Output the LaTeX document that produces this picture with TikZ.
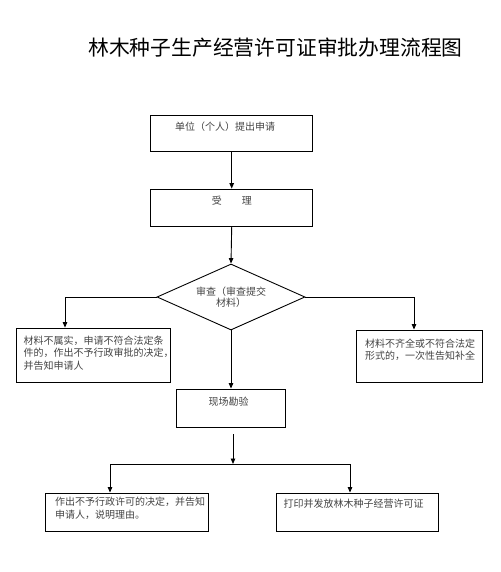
\documentclass[tikz,border=0pt]{standalone}
\usepackage{fontspec}
\setmainfont{Noto Sans CJK SC}
\usetikzlibrary{shapes.geometric,arrows.meta}
\definecolor{txtgray}{HTML}{444444}
\begin{document}
\begin{tikzpicture}[x=1pt,y=-1pt,
  box/.style={draw=black,line width=0.9pt,inner sep=0pt,fill=white},
  txt/.style={inner sep=0pt,anchor=north west,align=left,text=txtgray,font=\fontsize{10}{12.4}\selectfont},
  arr/.style={-{Triangle[length=5.5pt,width=4.5pt]},line width=0.9pt},
  plain/.style={line width=0.9pt}]
\useasboundingbox[fill=white] (0,0) rectangle (500,572);
% title
\node[inner sep=0pt,font=\fontsize{20.8}{25}\selectfont] (title) at (275.5,48) {林木种子生产经营许可证审批办理流程图};
% boxes
\node[box,minimum width=162pt,minimum height=36.7pt] (b1) at (231.7,133.4) {};
\node[txt] (t1) at (175,122) {单位（个人）提出申请};
\node[box,minimum width=162pt,minimum height=37.7pt] (b2) at (231.7,207.9) {};
\node[txt] (t2) at (211.7,196) {受\hspace{20pt}理};
\node[diamond,draw=black,line width=0.9pt,fill=white,inner sep=0pt,minimum width=148pt,minimum height=66pt] (dia) at (231,297) {};
\node[txt,anchor=north,align=center,font=\fontsize{10}{11}\selectfont] (td) at (231,286.7) {审查（审查提交\\材料）};
\node[box,minimum width=154pt,minimum height=54.5pt] (lb) at (93,355.3) {};
\node[txt] (tl) at (23.3,335.7) {材料不属实，申请不符合法定条\\件的，作出不予行政审批的决定，\\并告知申请人};
\node[box,minimum width=126pt,minimum height=52pt] (rb) at (419,356) {};
\node[txt] (tr) at (365,338.5) {材料不齐全或不符合法定\\形式的，一次性告知补全};
\node[box,minimum width=109pt,minimum height=38pt] (b3) at (230.5,408) {};
\node[txt] (t3) at (208.3,397) {现场勘验};
\node[box,minimum width=163pt,minimum height=38pt] (bl) at (126.5,512) {};
\node[txt,font=\fontsize{10}{13.3}\selectfont] (tbl) at (55,496.7) {作出不予行政许可的决定，并告知\\申请人，说明理由。};
\node[box,minimum width=162pt,minimum height=38pt] (br) at (357,512) {};
\node[txt] (tbr) at (283.3,499) {打印并发放林木种子经营许可证};
% connectors
\draw[arr] (b1.south) -- (b2.north);
\draw[arr] (b2.south) -- (dia.north);
\coordinate (lt) at (65,0);
\coordinate (rt) at (414,0);
\draw[arr] (dia.west) -| (lt |- lb.north);
\draw[arr] (dia.east) -| (rt |- rb.north);
\draw[arr] (dia.south) -- (dia.south |- b3.north);
\coordinate (s1) at (233,434);
\coordinate (s2) at (233,464);
\coordinate (sl) at (110,464);
\coordinate (sr) at (350,464);
\draw[arr] (s1) -- (s2);
\draw[plain] (sl) -- (sr);
\draw[arr] (sl) -- (sl |- bl.north);
\draw[arr] (sr) -- (sr |- br.north);
\end{tikzpicture}
\end{document}
